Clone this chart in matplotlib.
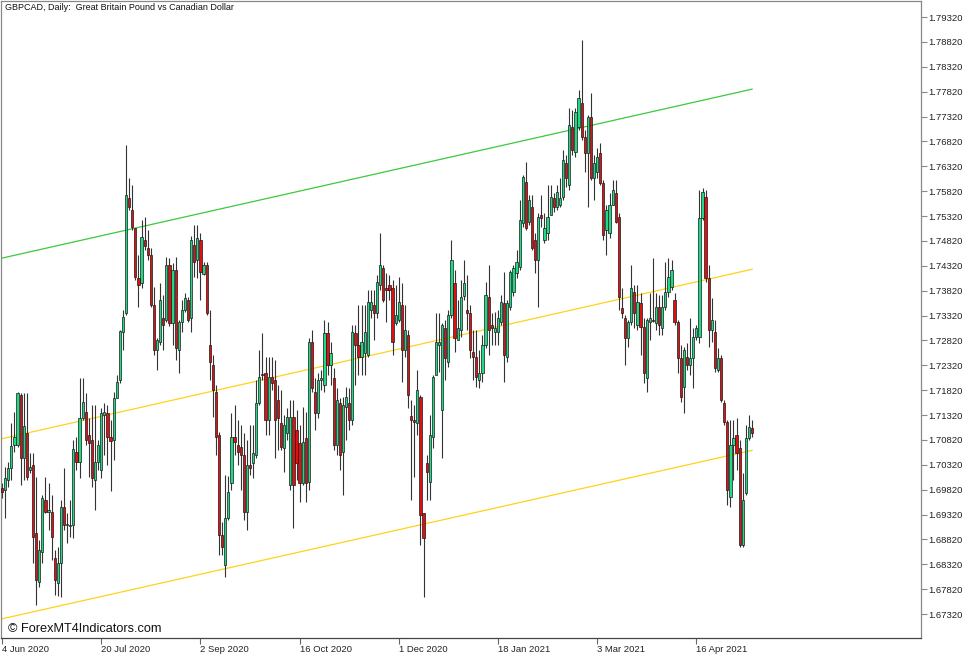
import numpy as np
import matplotlib
matplotlib.use("Agg")
from matplotlib import pyplot as plt

# daily GBPCAD bars, 4 Jun 2020 -> mid May 2021
opens = [
    1.6985, 1.6981, 1.7001, 1.7025, 1.7072, 1.7072, 1.7172, 1.7045, 1.7096, 1.7021,
    1.7031, 1.6895, 1.6796, 1.6856, 1.6961, 1.6937, 1.6937, 1.6844, 1.6794, 1.6834,
    1.6947, 1.6911, 1.6909, 1.6911, 1.7057, 1.7037, 1.7126, 1.7138, 1.7092, 1.7082,
    1.7001, 1.7037, 1.7021, 1.7132, 1.7136, 1.7088, 1.7082, 1.7166, 1.7202, 1.7299,
    1.7337, 1.7568, 1.7544, 1.7508, 1.7407, 1.7397, 1.7484, 1.7468, 1.7453, 1.7353,
    1.7262, 1.7279, 1.7327, 1.7323, 1.7433, 1.7317, 1.7423, 1.7262, 1.7319, 1.7343,
    1.7363, 1.7327, 1.7474, 1.7443, 1.7484, 1.7415, 1.7433, 1.7273, 1.7232, 1.7178,
    1.7092, 1.6891, 1.6830, 1.6925, 1.6995, 1.7088, 1.7072, 1.7068, 1.7051, 1.6937,
    1.7031, 1.7035, 1.7051, 1.7156, 1.7212, 1.7216, 1.7122, 1.7208, 1.7202, 1.7162,
    1.7116, 1.7066, 1.7096, 1.6991, 1.7128, 1.7102, 1.7076, 1.6995, 1.7086, 1.6997,
    1.7279, 1.7178, 1.7136, 1.7202, 1.7192, 1.7297, 1.7232, 1.7206, 1.7072, 1.7156,
    1.7057, 1.7148, 1.7156, 1.7122, 1.7297, 1.7273, 1.7248, 1.7256, 1.7252, 1.7343,
    1.7353, 1.7337, 1.7393, 1.7427, 1.7387, 1.7393, 1.7387, 1.7317, 1.7323, 1.7353,
    1.7262, 1.7293, 1.7130, 1.7122, 1.7116, 1.7168, 1.6935, 1.7035, 1.6997, 1.7088,
    1.7212, 1.7273, 1.7142, 1.7307, 1.7238, 1.7333, 1.7397, 1.7283, 1.7303, 1.7371,
    1.7343, 1.7337, 1.7258, 1.7248, 1.7202, 1.7216, 1.7273, 1.7369, 1.7313, 1.7299,
    1.7299, 1.7319, 1.7357, 1.7248, 1.7349, 1.7379, 1.7417, 1.7429, 1.7518, 1.7600,
    1.7520, 1.7550, 1.7484, 1.7443, 1.7534, 1.7484, 1.7498, 1.7534, 1.7568, 1.7550,
    1.7554, 1.7570, 1.7638, 1.7594, 1.7711, 1.7660, 1.7711, 1.7759, 1.7691, 1.7658,
    1.7731, 1.7608, 1.7620, 1.7658, 1.7598, 1.7504, 1.7498, 1.7554, 1.7578, 1.7530,
    1.7347, 1.7327, 1.7287, 1.7319, 1.7379, 1.7313, 1.7357, 1.7309, 1.7206, 1.7319,
    1.7323, 1.7317, 1.7349, 1.7307, 1.7349, 1.7379, 1.7389, 1.7363, 1.7319, 1.7246,
    1.7188, 1.7248, 1.7232, 1.7246, 1.7289, 1.7289, 1.7528, 1.7570, 1.7407, 1.7303,
    1.7299, 1.7222, 1.7246, 1.7156, 1.7118, 1.6967, 1.7072, 1.7092, 1.7066, 1.6871,
    1.6975, 1.7086, 1.7106,
]
highs = [
    1.6995, 1.7027, 1.7037, 1.7116, 1.7138, 1.7178, 1.7176, 1.7176, 1.7176, 1.7055,
    1.7055, 1.7007, 1.6881, 1.6971, 1.7007, 1.6995, 1.6971, 1.6860, 1.6867, 1.6961,
    1.7025, 1.6935, 1.6961, 1.7082, 1.7088, 1.7206, 1.7206, 1.7176, 1.7126, 1.7152,
    1.7152, 1.7082, 1.7146, 1.7156, 1.7152, 1.7122, 1.7178, 1.7212, 1.7303, 1.7343,
    1.7675, 1.7608, 1.7594, 1.7508, 1.7453, 1.7524, 1.7530, 1.7504, 1.7468, 1.7389,
    1.7287, 1.7397, 1.7373, 1.7449, 1.7447, 1.7437, 1.7449, 1.7323, 1.7363, 1.7377,
    1.7369, 1.7492, 1.7514, 1.7514, 1.7498, 1.7439, 1.7439, 1.7343, 1.7252, 1.7192,
    1.7098, 1.6917, 1.7011, 1.7009, 1.7136, 1.7152, 1.7122, 1.7112, 1.7096, 1.7082,
    1.7112, 1.7112, 1.7202, 1.7262, 1.7297, 1.7248, 1.7248, 1.7248, 1.7242, 1.7192,
    1.7182, 1.7132, 1.7146, 1.7162, 1.7162, 1.7142, 1.7112, 1.7148, 1.7138, 1.7287,
    1.7303, 1.7206, 1.7216, 1.7222, 1.7323, 1.7319, 1.7279, 1.7226, 1.7186, 1.7166,
    1.7168, 1.7188, 1.7186, 1.7313, 1.7313, 1.7353, 1.7353, 1.7353, 1.7383, 1.7383,
    1.7383, 1.7413, 1.7498, 1.7433, 1.7417, 1.7413, 1.7403, 1.7393, 1.7409, 1.7397,
    1.7353, 1.7303, 1.7162, 1.7152, 1.7222, 1.7172, 1.6935, 1.7051, 1.7132, 1.7212,
    1.7337, 1.7337, 1.7317, 1.7323, 1.7343, 1.7484, 1.7423, 1.7363, 1.7403, 1.7443,
    1.7413, 1.7353, 1.7303, 1.7303, 1.7262, 1.7293, 1.7399, 1.7433, 1.7337, 1.7339,
    1.7343, 1.7373, 1.7419, 1.7363, 1.7423, 1.7433, 1.7463, 1.7564, 1.7614, 1.7640,
    1.7574, 1.7574, 1.7498, 1.7538, 1.7574, 1.7538, 1.7594, 1.7594, 1.7578, 1.7594,
    1.7608, 1.7664, 1.7654, 1.7749, 1.7745, 1.7749, 1.7785, 1.7886, 1.7705, 1.7735,
    1.7779, 1.7654, 1.7669, 1.7679, 1.7604, 1.7554, 1.7578, 1.7604, 1.7604, 1.7538,
    1.7387, 1.7333, 1.7323, 1.7433, 1.7393, 1.7393, 1.7377, 1.7327, 1.7327, 1.7377,
    1.7447, 1.7377, 1.7373, 1.7373, 1.7439, 1.7447, 1.7443, 1.7377, 1.7323, 1.7273,
    1.7269, 1.7277, 1.7327, 1.7307, 1.7313, 1.7584, 1.7588, 1.7584, 1.7433, 1.7367,
    1.7323, 1.7267, 1.7252, 1.7162, 1.7122, 1.7122, 1.7122, 1.7126, 1.7082, 1.7015,
    1.7112, 1.7132, 1.7122,
]
lows = [
    1.6965, 1.6925, 1.6987, 1.7001, 1.7057, 1.7068, 1.6991, 1.7001, 1.7001, 1.7015,
    1.6834, 1.6750, 1.6786, 1.6834, 1.6935, 1.6901, 1.6840, 1.6770, 1.6768, 1.6766,
    1.6901, 1.6875, 1.6887, 1.6885, 1.7021, 1.7005, 1.7122, 1.7072, 1.7007, 1.6987,
    1.6941, 1.7021, 1.7005, 1.7051, 1.7031, 1.6979, 1.7041, 1.7168, 1.7196, 1.7262,
    1.7333, 1.7544, 1.7504, 1.7403, 1.7349, 1.7387, 1.7463, 1.7443, 1.7349, 1.7252,
    1.7222, 1.7273, 1.7262, 1.7319, 1.7311, 1.7273, 1.7242, 1.7216, 1.7299, 1.7339,
    1.7319, 1.7299, 1.7409, 1.7407, 1.7363, 1.7413, 1.7333, 1.7202, 1.7128, 1.7051,
    1.6850, 1.6850, 1.6806, 1.6921, 1.6981, 1.7051, 1.7031, 1.6981, 1.6921, 1.6901,
    1.7011, 1.7005, 1.7045, 1.7152, 1.7202, 1.7092, 1.7092, 1.7182, 1.7045, 1.7061,
    1.7061, 1.7017, 1.7082, 1.6981, 1.6905, 1.7001, 1.6957, 1.6991, 1.6957, 1.6981,
    1.7178, 1.7102, 1.7126, 1.7182, 1.7178, 1.7212, 1.7192, 1.7061, 1.7051, 1.7021,
    1.6971, 1.7082, 1.7102, 1.7112, 1.7192, 1.7212, 1.7212, 1.7212, 1.7248, 1.7327,
    1.7283, 1.7327, 1.7383, 1.7359, 1.7319, 1.7363, 1.7252, 1.7313, 1.7319, 1.7198,
    1.7248, 1.7146, 1.6961, 1.7007, 1.7092, 1.6871, 1.6766, 1.6961, 1.6961, 1.7066,
    1.7212, 1.7218, 1.7045, 1.7202, 1.7228, 1.7327, 1.7258, 1.7283, 1.7289, 1.7363,
    1.7303, 1.7246, 1.7202, 1.7188, 1.7186, 1.7198, 1.7267, 1.7252, 1.7273, 1.7273,
    1.7273, 1.7313, 1.7198, 1.7238, 1.7343, 1.7371, 1.7407, 1.7423, 1.7510, 1.7504,
    1.7514, 1.7463, 1.7417, 1.7349, 1.7510, 1.7478, 1.7484, 1.7534, 1.7540, 1.7544,
    1.7550, 1.7564, 1.7590, 1.7584, 1.7654, 1.7650, 1.7705, 1.7685, 1.7620, 1.7550,
    1.7604, 1.7564, 1.7608, 1.7594, 1.7484, 1.7453, 1.7488, 1.7554, 1.7518, 1.7343,
    1.7327, 1.7232, 1.7269, 1.7313, 1.7307, 1.7303, 1.7252, 1.7196, 1.7178, 1.7283,
    1.7319, 1.7303, 1.7293, 1.7293, 1.7343, 1.7369, 1.7383, 1.7313, 1.7216, 1.7158,
    1.7136, 1.7222, 1.7212, 1.7186, 1.7283, 1.7277, 1.7524, 1.7399, 1.7269, 1.7279,
    1.7218, 1.7218, 1.7158, 1.7112, 1.6951, 1.6947, 1.7001, 1.7021, 1.6867, 1.6867,
    1.6971, 1.7082, 1.7088,
]
closes = [
    1.6977, 1.7005, 1.7025, 1.7070, 1.7088, 1.7176, 1.7045, 1.7110, 1.7007, 1.7027,
    1.6887, 1.6800, 1.6860, 1.6965, 1.6937, 1.6941, 1.6887, 1.6800, 1.6834, 1.6947,
    1.6911, 1.6913, 1.6911, 1.7064, 1.7037, 1.7126, 1.7158, 1.7082, 1.7076, 1.7005,
    1.7037, 1.7072, 1.7136, 1.7138, 1.7088, 1.7080, 1.7166, 1.7198, 1.7301, 1.7329,
    1.7574, 1.7550, 1.7510, 1.7409, 1.7393, 1.7490, 1.7472, 1.7453, 1.7353, 1.7262,
    1.7283, 1.7363, 1.7313, 1.7433, 1.7317, 1.7423, 1.7267, 1.7319, 1.7343, 1.7367,
    1.7323, 1.7484, 1.7439, 1.7488, 1.7419, 1.7433, 1.7337, 1.7238, 1.7182, 1.7088,
    1.6891, 1.6867, 1.6925, 1.6977, 1.7088, 1.7078, 1.7057, 1.7051, 1.6937, 1.7031,
    1.7025, 1.7055, 1.7156, 1.7208, 1.7214, 1.7122, 1.7208, 1.7196, 1.7122, 1.7126,
    1.7068, 1.7112, 1.7128, 1.7128, 1.6991, 1.7035, 1.6995, 1.7078, 1.6995, 1.7279,
    1.7186, 1.7136, 1.7202, 1.7206, 1.7297, 1.7232, 1.7256, 1.7072, 1.7162, 1.7051,
    1.7152, 1.7168, 1.7122, 1.7299, 1.7273, 1.7248, 1.7279, 1.7299, 1.7359, 1.7359,
    1.7337, 1.7399, 1.7433, 1.7363, 1.7383, 1.7383, 1.7279, 1.7333, 1.7359, 1.7262,
    1.7303, 1.7172, 1.7122, 1.7118, 1.7182, 1.6931, 1.6885, 1.7017, 1.7092, 1.7208,
    1.7279, 1.7279, 1.7313, 1.7246, 1.7333, 1.7443, 1.7287, 1.7307, 1.7369, 1.7397,
    1.7337, 1.7262, 1.7248, 1.7208, 1.7216, 1.7273, 1.7373, 1.7303, 1.7307, 1.7307,
    1.7327, 1.7359, 1.7252, 1.7357, 1.7419, 1.7427, 1.7439, 1.7524, 1.7610, 1.7508,
    1.7564, 1.7468, 1.7443, 1.7530, 1.7528, 1.7508, 1.7530, 1.7570, 1.7550, 1.7580,
    1.7568, 1.7644, 1.7608, 1.7715, 1.7664, 1.7741, 1.7769, 1.7691, 1.7658, 1.7731,
    1.7608, 1.7638, 1.7650, 1.7598, 1.7494, 1.7544, 1.7554, 1.7584, 1.7520, 1.7369,
    1.7337, 1.7287, 1.7319, 1.7387, 1.7337, 1.7359, 1.7309, 1.7216, 1.7323, 1.7327,
    1.7321, 1.7349, 1.7313, 1.7349, 1.7379, 1.7409, 1.7423, 1.7319, 1.7246, 1.7168,
    1.7262, 1.7232, 1.7246, 1.7289, 1.7307, 1.7528, 1.7580, 1.7407, 1.7303, 1.7323,
    1.7226, 1.7246, 1.7162, 1.7118, 1.6981, 1.7072, 1.7086, 1.7055, 1.6871, 1.6961,
    1.7086, 1.7108, 1.7096,
]

# date axis labels (every 32 bars)
date_bars = [0, 32, 64, 96, 128, 160, 192, 224]
date_labels = ['4 Jun 2020', '20 Jul 2020', '2 Sep 2020', '16 Oct 2020',
               '1 Dec 2020', '18 Jan 2021', '3 Mar 2021', '16 Apr 2021']

# regression channel end points
chan_x = [-1, 242]
chan_upper = [1.7446, 1.7787]
chan_mid = [1.7083, 1.7425]
chan_lower = [1.6721, 1.7061]

price_ticks = [1.67320 + 0.005 * k for k in range(25)]

o = np.array(opens)
h = np.array(highs)
l = np.array(lows)
c = np.array(closes)
x = np.arange(len(o))
up = c >= o

W, H = 977, 658
fig = plt.figure(figsize=(W / 100, H / 100), dpi=100)
ax = fig.add_axes([1 / W, 20 / H, 920 / W, 637 / H])

# channel lines
ax.plot(chan_x, chan_upper, color='#3ec83e', lw=0.9, zorder=1)
ax.plot(chan_x, chan_mid, color='#ffd21a', lw=0.9, zorder=1)
ax.plot(chan_x, chan_lower, color='#ffd21a', lw=0.9, zorder=1)

# candles
ax.vlines(x, l, h, color='#333333', lw=0.8, zorder=2)
body_lo = np.minimum(o, c)
body_h = np.maximum(np.abs(c - o), 0.00012)
ax.bar(x[up], body_h[up], bottom=body_lo[up], width=0.72,
       color='#1ed985', edgecolor='#1a1a1a', linewidth=0.5, zorder=3)
ax.bar(x[~up], body_h[~up], bottom=body_lo[~up], width=0.72,
       color='#e01010', edgecolor='#1a1a1a', linewidth=0.5, zorder=3)

ax.set_xlim(-0.35, 296.5)
ax.set_ylim(1.66838, 1.79642)

for s in ax.spines.values():
    s.set_color('#888888')
    s.set_linewidth(0.9)
ax.spines['bottom'].set_color('#444444')

ax.yaxis.tick_right()
ax.set_yticks(price_ticks)
ax.set_yticklabels([f'{v:.5f}' for v in price_ticks])
ax.set_xticks(date_bars)
ax.set_xticklabels(date_labels, ha='left')
ax.tick_params(axis='y', direction='out', length=4, width=0.8, color='#888888',
               labelsize=6.8, labelcolor='#222222', pad=1)
ax.tick_params(axis='x', direction='out', length=4, width=0.8, color='#666666',
               labelsize=6.8, labelcolor='#222222', pad=1)
for t in ax.get_xticklabels() + ax.get_yticklabels():
    t.set_family('Liberation Sans')

fig.text(5 / W, 1 - 3 / H, 'GBPCAD, Daily:  Great Britain Pound vs Canadian Dollar',
         ha='left', va='top', fontsize=6.5, family='Liberation Sans', color='#111111')
fig.text(8 / W, 1 - 629 / H, '\u00a9 ForexMT4Indicators.com', ha='left', va='center',
         fontsize=9.2, family='Liberation Sans', color='#111111')

fig.savefig('out.png', dpi=100, facecolor='white')
